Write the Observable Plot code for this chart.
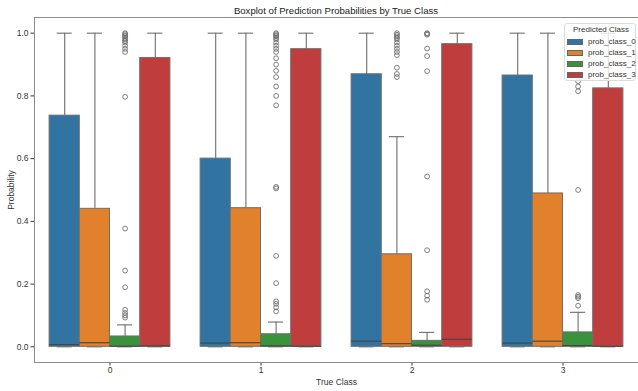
<!DOCTYPE html>
<html>
<head>
<meta charset="utf-8">
<script src="https://cdn.jsdelivr.net/npm/d3@7"></script>
<script src="https://cdn.jsdelivr.net/npm/@observablehq/plot@0.6"></script>
<style>
  html, body { margin: 0; padding: 0; background: #fff; }
  body { width: 638px; height: 391px; position: relative; overflow: hidden; font-family: "Liberation Sans", Arial, sans-serif; }
  #title { position: absolute; left: 34px; width: 604px; top: 5px; text-align: center; font-size: 9.6px; line-height: 12px; color: #222; }
  #chart { position: absolute; left: 0; top: 17px; }
  #legend { position: absolute; left: 564px; top: 23px; width: 72px; height: 58px; box-sizing: border-box; border: 1px solid #dcdcdc; border-radius: 3px; background: rgba(255,255,255,0.8); font-size: 8px; color: #333; }
  #legend .lt { position: absolute; left: 0; width: 72px; top: 1px; text-align: center; line-height: 10px; }
  #legend .sw { position: absolute; left: 2px; width: 16px; height: 6px; box-sizing: border-box; border: 1px solid #666; }
  #legend .lb { position: absolute; left: 23px; line-height: 10px; }
</style>
</head>
<body>
<div id="title">Boxplot of Prediction Probabilities by True Class</div>
<div id="chart"></div>
<div id="legend"></div>
<script>
const trueClasses = ["0", "1", "2", "3"];
const predictedClasses = ["prob_class_0", "prob_class_1", "prob_class_2", "prob_class_3"];
const palette = ["#3274a1", "#e1812c", "#3a923a", "#c03d3e"];
const yTicks = [0, 0.2, 0.4, 0.6, 0.8, 1.0];
const legendTitle = "Predicted Class";

// rows: true class 0..3, columns: prob_class_0..3
const q1Values = [
  [0.000, 0.000, 0.000, 0.000],
  [0.000, 0.000, 0.000, 0.000],
  [0.000, 0.000, 0.000, 0.000],
  [0.000, 0.000, 0.000, 0.000]
];
const medianValues = [
  [0.007, 0.013, 0.002, 0.003],
  [0.012, 0.013, 0.003, 0.002],
  [0.018, 0.010, 0.005, 0.024],
  [0.012, 0.018, 0.004, 0.002]
];
const q3Values = [
  [0.737, 0.440, 0.033, 0.921],
  [0.600, 0.442, 0.040, 0.949],
  [0.869, 0.295, 0.019, 0.965],
  [0.865, 0.489, 0.046, 0.824]
];
const whiskerLow = [
  [0, 0, 0, 0],
  [0, 0, 0, 0],
  [0, 0, 0, 0],
  [0, 0, 0, 0]
];
const whiskerHigh = [
  [1.0, 1.0, 0.070, 1.0],
  [1.0, 1.0, 0.079, 1.0],
  [1.0, 0.670, 0.046, 1.0],
  [1.0, 1.0, 0.110, 1.0]
];
const outlierValues = [
  [[], [], [1.0, 0.997, 0.993, 0.99, 0.985, 0.98, 0.975, 0.97, 0.96, 0.95, 0.94, 0.797, 0.377, 0.243, 0.19, 0.118, 0.108, 0.1, 0.093], []],
  [[], [], [1.0, 0.997, 0.993, 0.99, 0.985, 0.98, 0.97, 0.96, 0.95, 0.94, 0.92, 0.9, 0.88, 0.86, 0.83, 0.80, 0.77, 0.51, 0.505, 0.29, 0.203, 0.145, 0.137, 0.126, 0.113], []],
  [[], [1.0, 0.995, 0.99, 0.985, 0.98, 0.97, 0.96, 0.95, 0.94, 0.93, 0.89, 0.87, 0.86], [1.0, 0.998, 0.995, 0.951, 0.927, 0.879, 0.543, 0.308, 0.177, 0.163, 0.15], []],
  [[], [], [0.847, 0.83, 0.815, 0.5, 0.165, 0.16, 0.155, 0.131], []]
];

// seaborn-like dodge: group width 0.8, each box 0.2
const boxWidth = 0.2;
const rows = [];
const outRows = [];
trueClasses.forEach((tc, i) => {
  predictedClasses.forEach((pc, j) => {
    const c = i + (j - 1.5) * boxWidth;
    rows.push({tc, pc, c, q1: q1Values[i][j], med: medianValues[i][j], q3: q3Values[i][j], lo: whiskerLow[i][j], hi: whiskerHigh[i][j]});
    outlierValues[i][j].forEach(v => outRows.push({tc, pc, c, v}));
  });
});

const lineColor = "#6e6e6e";
const spineColor = "#8a8a8a";

const chart = Plot.plot({
  width: 638,
  height: 374,
  marginLeft: 34,
  marginRight: 0,
  marginTop: 0,
  marginBottom: 29,
  style: {fontFamily: "'Liberation Sans', Arial, sans-serif", fontSize: "8.5px", color: "#333", background: "transparent", overflow: "visible"},
  x: {domain: [-0.5, 3.5], ticks: [0, 1, 2, 3], tickFormat: d => trueClasses[d], label: "True Class", labelAnchor: "center", labelArrow: "none", labelOffset: 22, tickSize: 3.5, tickPadding: 1},
  y: {domain: [-0.05, 1.05], ticks: yTicks, tickFormat: d3.format(".1f"), label: "Probability", labelAnchor: "center", labelArrow: "none", labelOffset: 27, tickSize: 3.5, tickPadding: 2.5},
  color: {domain: predictedClasses, range: palette},
  marks: [
    Plot.ruleX([-0.5], {stroke: spineColor, strokeWidth: 1}),
    Plot.ruleY([-0.05], {stroke: spineColor, strokeWidth: 1}),
    Plot.ruleY([1.05], {stroke: spineColor, strokeWidth: 1}),
    Plot.ruleX(rows, {x: "c", y1: "q3", y2: "hi", stroke: lineColor, strokeWidth: 1.1}),
    Plot.ruleX(rows, {x: "c", y1: "lo", y2: "q1", stroke: lineColor, strokeWidth: 1.1}),
    Plot.ruleY(rows, {x1: d => d.c - boxWidth / 4, x2: d => d.c + boxWidth / 4, y: "hi", stroke: lineColor, strokeWidth: 1.1}),
    Plot.ruleY(rows, {x1: d => d.c - boxWidth / 4, x2: d => d.c + boxWidth / 4, y: "lo", stroke: lineColor, strokeWidth: 1.1}),
    Plot.rectY(rows, {x1: d => d.c - boxWidth / 2, x2: d => d.c + boxWidth / 2, y1: "q1", y2: "q3", fill: "pc", stroke: lineColor, strokeWidth: 1}),
    Plot.ruleY(rows, {x1: d => d.c - boxWidth / 2, x2: d => d.c + boxWidth / 2, y: "med", stroke: "#444", strokeWidth: 1.1}),
    Plot.dot(outRows, {x: "c", y: "v", r: 2.4, stroke: lineColor, fill: "none", strokeWidth: 0.9})
  ]
});
document.getElementById("chart").appendChild(chart);

// legend
const leg = document.getElementById("legend");
const lt = document.createElement("div");
lt.className = "lt";
lt.textContent = legendTitle;
leg.appendChild(lt);
predictedClasses.forEach((pc, k) => {
  const top = 13 + k * 11;
  const sw = document.createElement("div");
  sw.className = "sw";
  sw.style.top = (top + 2) + "px";
  sw.style.background = palette[k];
  leg.appendChild(sw);
  const lb = document.createElement("div");
  lb.className = "lb";
  lb.style.top = top + "px";
  lb.textContent = pc;
  leg.appendChild(lb);
});
</script>
</body>
</html>
